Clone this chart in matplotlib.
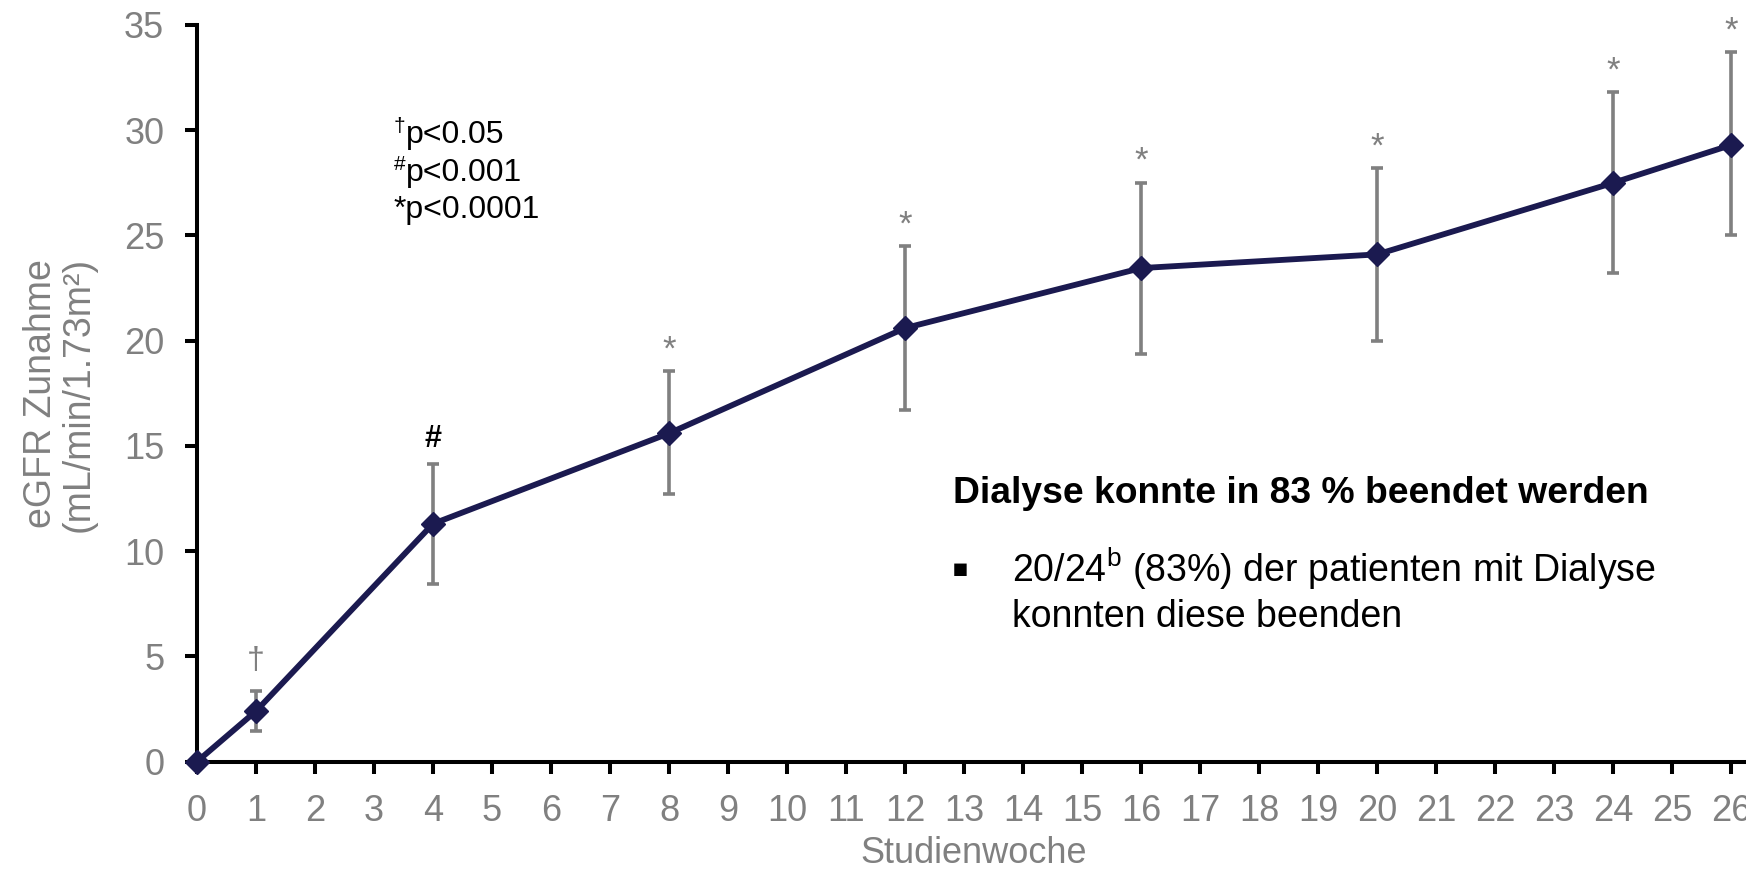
import matplotlib
matplotlib.use('Agg')
import matplotlib.pyplot as plt
import numpy as np

# ---------------- data ----------------
weeks = [0, 1, 4, 8, 12, 16, 20, 24, 26]
egfr = [0.0, 2.4, 11.3, 15.6, 20.6, 23.45, 24.1, 27.5, 29.3]
err_upper = [0.0, 3.35, 14.15, 18.55, 24.5, 27.5, 28.2, 31.8, 33.7]
err_lower = [0.0, 1.45, 8.45, 12.7, 16.7, 19.35, 20.0, 23.2, 25.0]
sig = ['', '†', '#', '*', '*', '*', '*', '*', '*']
xticks = list(range(0, 27))
yticks = [0, 5, 10, 15, 20, 25, 30, 35]

legend_lines = [('†', 'p<0.05'), ('#', 'p<0.001'), ('', '*p<0.0001')]
box_title = 'Dialyse konnte in 83 % beendet werden'
box_line1 = r'20/24$^{\mathrm{b}}$ (83%) der patienten mit Dialyse'
box_line2 = 'konnten diese beenden'
ylabel = 'eGFR Zunahme\n(mL/min/1.73m²)'
xlabel = 'Studienwoche'

# ---------------- style ----------------
plt.rcParams['font.family'] = ['Liberation Sans', 'DejaVu Sans']
plt.rcParams['mathtext.fontset'] = 'custom'
plt.rcParams['mathtext.rm'] = 'Liberation Sans'
plt.rcParams['mathtext.it'] = 'Liberation Sans:italic'
plt.rcParams['mathtext.bf'] = 'Liberation Sans:bold'

GREY = '#808080'
NAVY = '#1b1a50'
W, H = 1746, 869

fig = plt.figure(figsize=(W / 100, H / 100), dpi=100)
left, bottom = 197 / W, (H - 761.6) / H
top = (H - 25) / H
ax = fig.add_axes([left, bottom, 1.0 - left, top - bottom])

w = np.array(weeks, dtype=float)
m = np.array(egfr)
up = np.array(err_upper)
lo = np.array(err_lower)
has_err = up > lo

ax.errorbar(w[has_err], m[has_err], yerr=[m[has_err] - lo[has_err], up[has_err] - m[has_err]],
            fmt='none', ecolor=GREY, elinewidth=2.6, capsize=4.5, capthick=2.6,
            zorder=2, clip_on=False)
ax.plot(w, m, color=NAVY, lw=4.2, marker='D', ms=12, mfc=NAVY, mec=NAVY,
        zorder=3, clip_on=False)

sig_style = {
    '†': dict(color=GREY, weight='normal', size=23, off=16),
    '#': dict(color='black', weight='bold', size=22, off=12),
    '*': dict(color=GREY, weight='normal', size=25, off=8.5),
}
for xi, top_i, s in zip(w, up, sig):
    if not s:
        continue
    st = sig_style[s]
    ax.annotate(s, xy=(xi, top_i), xytext=(0, st['off']), textcoords='offset points',
                ha='center', va='baseline', color=st['color'], fontsize=st['size'],
                fontweight=st['weight'], annotation_clip=False)

ax.set_xlim(0, 26.25)
ax.set_ylim(0, 35)
ax.set_xticks(xticks)
ax.set_yticks(yticks)
for side in ['top', 'right']:
    ax.spines[side].set_visible(False)
for side in ['left', 'bottom']:
    ax.spines[side].set_linewidth(2.9)
    ax.spines[side].set_color('black')
ax.tick_params(axis='both', direction='out', length=8.6, width=2.9, color='black',
               labelcolor=GREY, labelsize=26)
ax.tick_params(axis='x', pad=15)
ax.tick_params(axis='y', pad=15)
ax.patch.set_visible(False)

# axis labels
fig.text(60 / W, 1 - 394 / H, ylabel, rotation=90, ha='center', va='center',
         color=GREY, fontsize=27, linespacing=1.05, multialignment='center')
fig.text(974 / W, 1 - 863 / H, xlabel, ha='center', va='baseline', color=GREY, fontsize=26)

# p-value legend
base_y = [143, 180.5, 218]
for (sup, txt), by in zip(legend_lines, base_y):
    if sup:
        fig.text(394 / W, 1 - (by - 11) / H, sup, ha='left', va='baseline',
                 fontsize=15, color='black')
        fig.text(406 / W, 1 - by / H, txt, ha='left', va='baseline', fontsize=23, color='black')
    else:
        fig.text(394 / W, 1 - by / H, txt, ha='left', va='baseline', fontsize=23, color='black')

# text box
fig.text(953 / W, 1 - 503 / H, box_title, ha='left', va='baseline', fontsize=26.8,
         fontweight='bold', color='black')
fig.text(960 / W, 1 - 575.5 / H, '▪', ha='center', va='baseline', fontsize=18,
         color='black', family=['DejaVu Sans'])
fig.text(1012 / W, 1 - 581.7 / H, box_line1, ha='left', va='baseline', fontsize=27, color='black')
fig.text(1012 / W, 1 - 626.7 / H, box_line2, ha='left', va='baseline', fontsize=27, color='black')

fig.savefig('out.png', dpi=100)
